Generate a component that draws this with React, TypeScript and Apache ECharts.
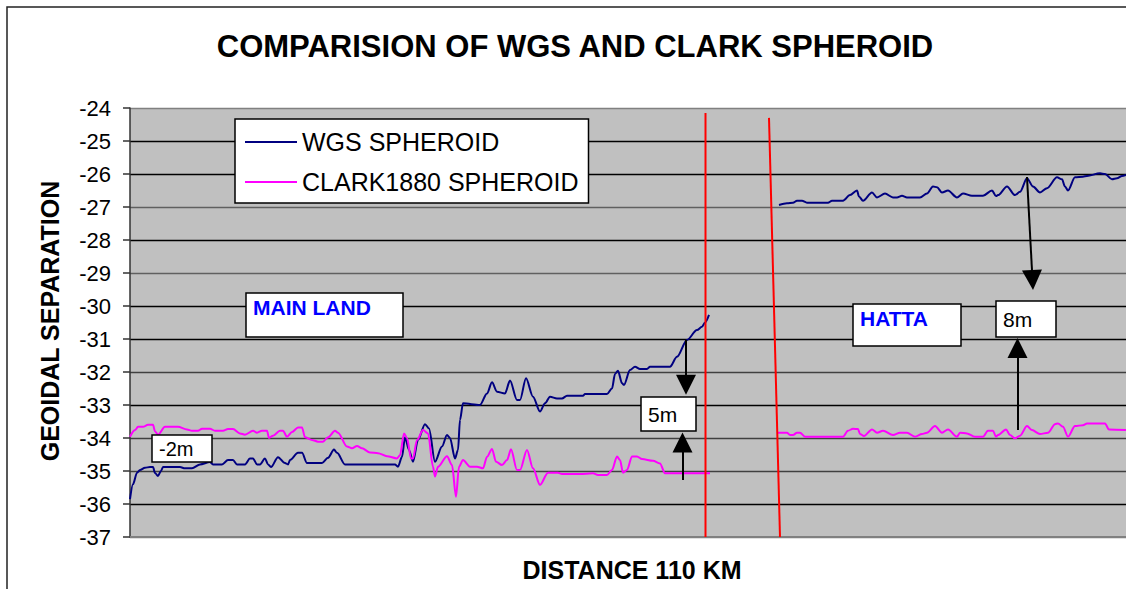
import React, { useEffect, useRef } from 'react';
import * as echarts from 'echarts';

// Distance along the profile (plot units) and geoidal separation (m)
const wgsMainland: [number, number][] = [
  [0, -35.85], [3, -35.4], [7, -35.05], [10, -34.97], [15, -34.9], [20, -34.88], [23, -34.88], [25, -35.06],
  [28, -35.15], [31, -35.0], [33, -34.88], [50, -34.88], [55, -34.92], [62, -34.92], [70, -34.8], [80, -34.73],
  [83, -34.8], [92, -34.8], [98, -34.67], [103, -34.67], [107, -34.8], [115, -34.8], [120, -34.62], [123, -34.62],
  [127, -34.8], [130, -34.8], [135, -34.62], [138, -34.8], [141, -34.88], [148, -34.58], [155, -34.76], [158, -34.8],
  [160, -34.67], [168, -34.45], [172, -34.45], [177, -34.76], [192, -34.76], [198, -34.6], [204, -34.35], [207, -34.45],
  [215, -34.8], [265, -34.8], [268, -34.87], [272, -34.57], [275, -33.98], [279, -34.36], [283, -34.72], [288, -34.06],
  [295, -33.58], [299, -33.71], [305, -34.72], [312, -34.26], [317, -33.91], [320, -34.0], [325, -34.62], [328, -34.36],
  [330, -33.45], [333, -32.95], [350, -33.0], [357, -32.65], [362, -32.31], [367, -32.6], [375, -32.65], [380, -32.26],
  [387, -32.85], [390, -32.85], [396, -32.19], [403, -32.75], [410, -33.2], [415, -32.95], [420, -32.75], [427, -32.8],
  [432, -32.8], [437, -32.72], [453, -32.72], [455, -32.67], [477, -32.67], [482, -32.5], [485, -32.06], [488, -31.96],
  [492, -32.34], [494, -32.39], [500, -31.94], [505, -31.84], [510, -31.91], [517, -31.91], [520, -31.84], [540, -31.84],
  [547, -31.54], [557, -31.03], [567, -30.73], [572, -30.63], [575, -30.5], [579, -30.27],
];

const clarkMainland: [number, number][] = [
  [0, -33.96], [5, -33.76], [8, -33.66], [13, -33.66], [18, -33.6], [23, -33.6], [25, -33.8], [28, -33.9],
  [35, -33.66], [48, -33.66], [57, -33.74], [62, -33.78], [68, -33.78], [72, -33.72], [80, -33.72], [85, -33.78],
  [93, -33.78], [98, -33.73], [103, -33.73], [110, -33.86], [115, -33.9], [123, -33.78], [127, -33.84], [132, -33.78],
  [137, -33.78], [139, -34.0], [143, -33.93], [150, -33.78], [153, -33.78], [157, -33.96], [162, -33.82], [168, -33.68],
  [172, -33.68], [175, -33.98], [182, -34.06], [188, -34.11], [193, -34.11], [198, -33.98], [205, -33.78], [208, -33.84],
  [217, -34.26], [222, -34.31], [227, -34.24], [232, -34.31], [240, -34.44], [248, -34.46], [257, -34.55], [267, -34.62],
  [270, -34.52], [274, -33.86], [277, -34.0], [281, -34.62], [283, -34.62], [287, -34.06], [293, -33.76], [298, -33.86],
  [303, -34.87], [305, -35.17], [308, -34.87], [317, -34.55], [322, -34.82], [326, -35.78], [329, -34.87], [333, -34.67],
  [340, -34.87], [347, -34.87], [353, -34.92], [357, -34.57], [362, -34.33], [366, -34.72], [372, -34.82], [377, -34.67],
  [381, -34.34], [387, -34.97], [390, -34.97], [397, -34.36], [403, -34.92], [410, -35.42], [418, -35.05], [428, -35.05],
  [432, -35.09], [450, -35.09], [463, -35.07], [468, -35.12], [477, -35.12], [482, -34.97], [487, -34.56], [490, -34.67],
  [493, -35.05], [497, -34.97], [502, -34.56], [507, -34.56], [512, -34.64], [523, -34.69], [530, -34.77], [535, -35.07],
  [580, -35.07],
];

const wgsHatta: [number, number][] = [
  [649, -26.94], [657, -26.89], [663, -26.87], [667, -26.81], [672, -26.81], [677, -26.87], [698, -26.87], [702, -26.81],
  [713, -26.81], [720, -26.64], [727, -26.5], [729, -26.68], [733, -26.81], [742, -26.56], [747, -26.71], [755, -26.59],
  [763, -26.71], [767, -26.71], [772, -26.66], [777, -26.71], [790, -26.71], [797, -26.59], [803, -26.38], [807, -26.4],
  [812, -26.56], [818, -26.5], [827, -26.71], [833, -26.59], [842, -26.66], [853, -26.66], [862, -26.5], [866, -26.67],
  [868, -26.64], [877, -26.38], [885, -26.64], [890, -26.54], [897, -26.13], [903, -26.38], [910, -26.56], [917, -26.43],
  [927, -26.1], [932, -26.16], [935, -26.38], [938, -26.5], [945, -26.1], [953, -26.08], [957, -26.06], [970, -25.98],
  [975, -26.0], [982, -26.16], [987, -26.13], [992, -26.06], [996, -26.03],
];

const clarkHatta: [number, number][] = [
  [648, -33.84], [657, -33.84], [660, -33.91], [663, -33.91], [667, -33.84], [670, -33.84], [675, -33.96], [713, -33.96],
  [718, -33.78], [723, -33.72], [728, -33.73], [730, -33.88], [734, -33.94], [742, -33.74], [747, -33.84], [753, -33.78],
  [763, -33.91], [770, -33.84], [777, -33.84], [785, -33.96], [792, -33.88], [797, -33.84], [805, -33.64], [812, -33.84],
  [818, -33.74], [827, -33.96], [830, -33.84], [837, -33.86], [845, -33.96], [853, -33.96], [858, -33.78], [863, -33.78],
  [866, -33.96], [868, -33.91], [876, -33.74], [880, -33.91], [885, -34.01], [890, -33.93], [897, -33.64], [902, -33.76],
  [910, -33.88], [918, -33.84], [925, -33.58], [928, -33.56], [933, -33.66], [938, -33.96], [945, -33.64], [953, -33.61],
  [957, -33.56], [975, -33.56], [979, -33.74], [996, -33.76],
];

// Red separators between the two survey areas
const boundaryMainland: [number, number][] = [[575.5, -24.15], [575.5, -37]];
const boundaryHatta: [number, number][] = [[639, -24.3], [650, -37]];

// Difference arrows [from, to]
const arrows: [[number, number], [number, number]][] = [
  [[556, -31.03], [556, -32.39]],
  [[552.5, -35.27], [552.5, -34.14]],
  [[897, -26.09], [902.5, -29.21]],
  [[887.5, -33.76], [887.5, -31.27]],
];

const seriesNames = ['WGS SPHEROID', 'CLARK1880 SPHEROID'];
const yMin = -37;
const yMax = -24;
const xMax = 996;

const FONT = '"Liberation Sans", Arial, Helvetica, sans-serif';
const NAVY = '#000080';
const MAGENTA = '#FF00FF';

const gridColors = ['#808080', '#000', '#404040', '#404040', '#000', '#404040', '#000', '#000', '#606060', '#000', '#606060', '#000', '#000', '#808080'];

function box(x: number, y: number, w: number, h: number, text: string, color: string, bold: boolean, size: number) {
  return [
    { type: 'rect', z: 100, shape: { x, y, width: w, height: h }, style: { fill: '#fff', stroke: '#000', lineWidth: 1.5 } },
    {
      type: 'text', z: 101, x: x + 7, y: y + (bold ? 14 : h / 2),
      style: { text, fill: color, font: `${bold ? 'bold ' : ''}${size}px ${FONT}`, align: 'left', verticalAlign: 'middle' },
    },
  ];
}

export default function App() {
  const ref = useRef<HTMLDivElement>(null);
  useEffect(() => {
    const chart = echarts.init(ref.current!, null, { renderer: 'svg' });
    const lineBase = { type: 'line', symbol: 'none', smooth: 0.3, smoothMonotone: 'x', z: 3 } as any;
    chart.setOption({
      animation: false,
      title: {
        text: 'COMPARISION OF WGS AND CLARK SPHEROID',
        left: 575, top: 31, textAlign: 'center', padding: 0,
        textStyle: { fontFamily: FONT, fontWeight: 'bold', fontSize: 31, color: '#000' },
      },
      grid: { left: 130, top: 108, right: 0, bottom: 52, show: true, backgroundColor: '#C0C0C0', borderWidth: 0 },
      legend: {
        data: seriesNames.map((name) => ({ name, icon: 'rect' })), orient: 'vertical', left: 235, top: 119,
        backgroundColor: '#fff', borderColor: '#000', borderWidth: 1.5, borderRadius: 0,
        padding: [9, 10, 7, 10], itemWidth: 52, itemHeight: 2, itemGap: 12,
        textStyle: { fontFamily: FONT, fontSize: 25, color: '#000', lineHeight: 28 },
      },
      xAxis: {
        type: 'value', min: 0, max: xMax,
        axisLine: { show: true, lineStyle: { color: '#808080', width: 2 } },
        axisTick: { show: false }, axisLabel: { show: false }, splitLine: { show: false },
      },
      yAxis: {
        type: 'value', min: yMin, max: yMax, interval: 1,
        axisLine: { show: true, lineStyle: { color: '#333', width: 1.5 } },
        axisTick: { show: true, length: 7, lineStyle: { color: '#333', width: 1.5 } },
        axisLabel: { fontFamily: FONT, fontSize: 22, color: '#000', margin: 19 },
        splitLine: { show: true, lineStyle: { color: gridColors, width: 1.3 } },
      },
      series: [
        { ...lineBase, name: seriesNames[0], data: wgsMainland, lineStyle: { color: NAVY, width: 2 }, itemStyle: { color: NAVY } },
        { ...lineBase, name: seriesNames[0], data: wgsHatta, lineStyle: { color: NAVY, width: 2 }, itemStyle: { color: NAVY } },
        { ...lineBase, name: seriesNames[1], data: clarkMainland, lineStyle: { color: MAGENTA, width: 2 }, itemStyle: { color: MAGENTA } },
        { ...lineBase, name: seriesNames[1], data: clarkHatta, lineStyle: { color: MAGENTA, width: 2 }, itemStyle: { color: MAGENTA } },
        {
          type: 'line', name: 'boundary mainland', symbol: 'none', data: boundaryMainland, silent: true, z: 4,
          lineStyle: { color: '#FF0000', width: 2 },
          markLine: {
            silent: true, symbol: ['none', 'triangle'], symbolSize: [20, 20], label: { show: false },
            lineStyle: { color: '#000', width: 2, type: 'solid' }, itemStyle: { color: '#000' },
            data: arrows.map(([a, b]) => [{ coord: a }, { coord: b }]),
          },
        },
        { type: 'line', name: 'boundary hatta', symbol: 'none', data: boundaryHatta, silent: true, z: 4, lineStyle: { color: '#FF0000', width: 2 } },
      ],
      graphic: [
        { type: 'rect', z: 0, shape: { x: 7, y: 7, width: 1300, height: 800 }, style: { fill: 'none', stroke: '#222', lineWidth: 1.5 } },
        {
          type: 'text', z: 101, x: 50, y: 321, rotation: Math.PI / 2,
          style: { text: 'GEOIDAL SEPARATION', font: `bold 25px ${FONT}`, fill: '#000', align: 'center', verticalAlign: 'middle' },
        },
        {
          type: 'text', z: 101, x: 632, y: 570,
          style: { text: 'DISTANCE 110 KM', font: `bold 25px ${FONT}`, fill: '#000', align: 'center', verticalAlign: 'middle' },
        },
        ...box(246, 293, 157, 44, 'MAIN LAND', '#0000FF', true, 21),
        ...box(853, 304, 108, 42, 'HATTA', '#0000FF', true, 21),
        ...box(152, 435, 60, 27, '-2m', '#000', false, 20),
        ...box(641, 397, 55, 34, '5m', '#000', false, 21),
        ...box(996, 301, 60, 36, '8m', '#000', false, 21),
      ],
    });
    return () => chart.dispose();
  }, []);
  return <div ref={ref} style={{ position: 'absolute', left: 0, top: 0, width: 1126, height: 589, background: '#fff' }} />;
}
